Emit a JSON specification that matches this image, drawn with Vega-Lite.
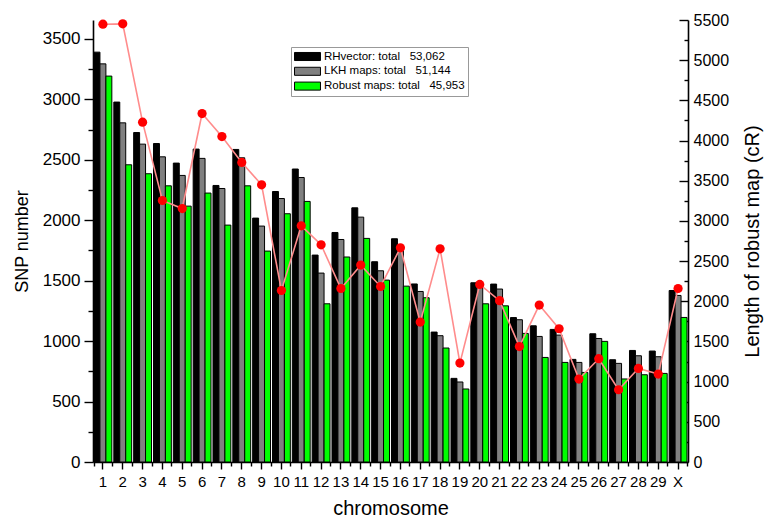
{
  "$schema": "https://vega.github.io/schema/vega-lite/v6.json",
  "width": 595,
  "height": 442,
  "autosize": "none",
  "padding": {"left": 93, "top": 20, "right": 80, "bottom": 56},
  "background": "white",
  "config": {
    "view": {"stroke": null},
    "font": "Liberation Sans",
    "axis": {
      "grid": false,
      "domainColor": "black",
      "tickColor": "black",
      "labelColor": "black",
      "titleColor": "black",
      "labelFont": "Liberation Sans",
      "titleFont": "Liberation Sans",
      "titleFontWeight": "normal",
      "domainWidth": 1.6,
      "tickWidth": 1.4
    }
  },
  "datasets": {
    "bars": [
      {"chromosome": "1", "series": "RHvector", "count": 3391},
      {"chromosome": "1", "series": "LKH maps", "count": 3294},
      {"chromosome": "1", "series": "Robust maps", "count": 3193},
      {"chromosome": "2", "series": "RHvector", "count": 2978},
      {"chromosome": "2", "series": "LKH maps", "count": 2806},
      {"chromosome": "2", "series": "Robust maps", "count": 2459},
      {"chromosome": "3", "series": "RHvector", "count": 2726},
      {"chromosome": "3", "series": "LKH maps", "count": 2630},
      {"chromosome": "3", "series": "Robust maps", "count": 2385},
      {"chromosome": "4", "series": "RHvector", "count": 2635},
      {"chromosome": "4", "series": "LKH maps", "count": 2525},
      {"chromosome": "4", "series": "Robust maps", "count": 2285},
      {"chromosome": "5", "series": "RHvector", "count": 2473},
      {"chromosome": "5", "series": "LKH maps", "count": 2371},
      {"chromosome": "5", "series": "Robust maps", "count": 2117},
      {"chromosome": "6", "series": "RHvector", "count": 2589},
      {"chromosome": "6", "series": "LKH maps", "count": 2512},
      {"chromosome": "6", "series": "Robust maps", "count": 2225},
      {"chromosome": "7", "series": "RHvector", "count": 2288},
      {"chromosome": "7", "series": "LKH maps", "count": 2263},
      {"chromosome": "7", "series": "Robust maps", "count": 1960},
      {"chromosome": "8", "series": "RHvector", "count": 2586},
      {"chromosome": "8", "series": "LKH maps", "count": 2517},
      {"chromosome": "8", "series": "Robust maps", "count": 2285},
      {"chromosome": "9", "series": "RHvector", "count": 2018},
      {"chromosome": "9", "series": "LKH maps", "count": 1952},
      {"chromosome": "9", "series": "Robust maps", "count": 1745},
      {"chromosome": "10", "series": "RHvector", "count": 2238},
      {"chromosome": "10", "series": "LKH maps", "count": 2180},
      {"chromosome": "10", "series": "Robust maps", "count": 2054},
      {"chromosome": "11", "series": "RHvector", "count": 2424},
      {"chromosome": "11", "series": "LKH maps", "count": 2354},
      {"chromosome": "11", "series": "Robust maps", "count": 2156},
      {"chromosome": "12", "series": "RHvector", "count": 1712},
      {"chromosome": "12", "series": "LKH maps", "count": 1563},
      {"chromosome": "12", "series": "Robust maps", "count": 1309},
      {"chromosome": "13", "series": "RHvector", "count": 1899},
      {"chromosome": "13", "series": "LKH maps", "count": 1841},
      {"chromosome": "13", "series": "Robust maps", "count": 1696},
      {"chromosome": "14", "series": "RHvector", "count": 2103},
      {"chromosome": "14", "series": "LKH maps", "count": 2026},
      {"chromosome": "14", "series": "Robust maps", "count": 1850},
      {"chromosome": "15", "series": "RHvector", "count": 1657},
      {"chromosome": "15", "series": "LKH maps", "count": 1582},
      {"chromosome": "15", "series": "Robust maps", "count": 1505},
      {"chromosome": "16", "series": "RHvector", "count": 1847},
      {"chromosome": "16", "series": "LKH maps", "count": 1770},
      {"chromosome": "16", "series": "Robust maps", "count": 1455},
      {"chromosome": "17", "series": "RHvector", "count": 1473},
      {"chromosome": "17", "series": "LKH maps", "count": 1411},
      {"chromosome": "17", "series": "Robust maps", "count": 1359},
      {"chromosome": "18", "series": "RHvector", "count": 1075},
      {"chromosome": "18", "series": "LKH maps", "count": 1045},
      {"chromosome": "18", "series": "Robust maps", "count": 943},
      {"chromosome": "19", "series": "RHvector", "count": 692},
      {"chromosome": "19", "series": "LKH maps", "count": 662},
      {"chromosome": "19", "series": "Robust maps", "count": 604},
      {"chromosome": "20", "series": "RHvector", "count": 1483},
      {"chromosome": "20", "series": "LKH maps", "count": 1445},
      {"chromosome": "20", "series": "Robust maps", "count": 1309},
      {"chromosome": "21", "series": "RHvector", "count": 1472},
      {"chromosome": "21", "series": "LKH maps", "count": 1431},
      {"chromosome": "21", "series": "Robust maps", "count": 1292},
      {"chromosome": "22", "series": "RHvector", "count": 1195},
      {"chromosome": "22", "series": "LKH maps", "count": 1177},
      {"chromosome": "22", "series": "Robust maps", "count": 1064},
      {"chromosome": "23", "series": "RHvector", "count": 1127},
      {"chromosome": "23", "series": "LKH maps", "count": 1039},
      {"chromosome": "23", "series": "Robust maps", "count": 865},
      {"chromosome": "24", "series": "RHvector", "count": 1097},
      {"chromosome": "24", "series": "LKH maps", "count": 1050},
      {"chromosome": "24", "series": "Robust maps", "count": 824},
      {"chromosome": "25", "series": "RHvector", "count": 849},
      {"chromosome": "25", "series": "LKH maps", "count": 824},
      {"chromosome": "25", "series": "Robust maps", "count": 741},
      {"chromosome": "26", "series": "RHvector", "count": 1061},
      {"chromosome": "26", "series": "LKH maps", "count": 1022},
      {"chromosome": "26", "series": "Robust maps", "count": 998},
      {"chromosome": "27", "series": "RHvector", "count": 846},
      {"chromosome": "27", "series": "LKH maps", "count": 816},
      {"chromosome": "27", "series": "Robust maps", "count": 687},
      {"chromosome": "28", "series": "RHvector", "count": 923},
      {"chromosome": "28", "series": "LKH maps", "count": 879},
      {"chromosome": "28", "series": "Robust maps", "count": 722},
      {"chromosome": "29", "series": "RHvector", "count": 918},
      {"chromosome": "29", "series": "LKH maps", "count": 871},
      {"chromosome": "29", "series": "Robust maps", "count": 733},
      {"chromosome": "X", "series": "RHvector", "count": 1419},
      {"chromosome": "X", "series": "LKH maps", "count": 1378},
      {"chromosome": "X", "series": "Robust maps", "count": 1196}
    ],
    "map": [
      {"chromosome": "1", "length": 5448},
      {"chromosome": "2", "length": 5452},
      {"chromosome": "3", "length": 4229},
      {"chromosome": "4", "length": 3254},
      {"chromosome": "5", "length": 3154},
      {"chromosome": "6", "length": 4336},
      {"chromosome": "7", "length": 4050},
      {"chromosome": "8", "length": 3727},
      {"chromosome": "9", "length": 3449},
      {"chromosome": "10", "length": 2134},
      {"chromosome": "11", "length": 2939},
      {"chromosome": "12", "length": 2703},
      {"chromosome": "13", "length": 2159},
      {"chromosome": "14", "length": 2450},
      {"chromosome": "15", "length": 2184},
      {"chromosome": "16", "length": 2665},
      {"chromosome": "17", "length": 1741},
      {"chromosome": "18", "length": 2653},
      {"chromosome": "19", "length": 1231},
      {"chromosome": "20", "length": 2209},
      {"chromosome": "21", "length": 2008},
      {"chromosome": "22", "length": 1436},
      {"chromosome": "23", "length": 1953},
      {"chromosome": "24", "length": 1658},
      {"chromosome": "25", "length": 1032},
      {"chromosome": "26", "length": 1285},
      {"chromosome": "27", "length": 899},
      {"chromosome": "28", "length": 1164},
      {"chromosome": "29", "length": 1094},
      {"chromosome": "X", "length": 2159}
    ]
  },
  "layer": [
    {
      "data": {"name": "bars"},
      "mark": {"type": "bar", "stroke": "black", "strokeWidth": 1},
      "encoding": {
        "x": {
          "field": "chromosome",
          "type": "nominal",
          "sort": ["1","2","3","4","5","6","7","8","9","10","11","12","13","14","15","16","17","18","19","20","21","22","23","24","25","26","27","28","29","X"],
          "scale": {"paddingInner": 0.1, "paddingOuter": 0.05},
          "axis": {
            "orient": "bottom",
            "title": "chromosome",
            "titleFontSize": 20,
            "titlePadding": 9,
            "labelFontSize": 15,
            "labelAngle": 0,
            "labelPadding": 5,
            "tickSize": 7
          }
        },
        "xOffset": {
          "field": "series",
          "type": "nominal",
          "sort": ["RHvector", "LKH maps", "Robust maps"],
          "scale": {"paddingInner": 0, "paddingOuter": 0}
        },
        "y": {
          "field": "count",
          "type": "quantitative",
          "scale": {"domain": [0, 3657], "nice": false, "zero": true},
          "axis": {
            "orient": "left",
            "title": "SNP number",
            "titleFontSize": 18,
            "titlePadding": 11,
            "labelFontSize": 17,
            "labelPadding": 4,
            "format": "d",
            "values": [0,250,500,750,1000,1250,1500,1750,2000,2250,2500,2750,3000,3250,3500],
            "labelExpr": "datum.value % 500 === 0 ? datum.label : ''",
            "tickSize": {"condition": {"test": "datum.value % 500 === 0", "value": 9}, "value": 5}
          }
        },
        "color": {
          "field": "series",
          "type": "nominal",
          "scale": {"domain": ["RHvector", "LKH maps", "Robust maps"], "range": ["#000000", "#808080", "#00ff00"]},
          "legend": {
            "title": null,
            "orient": "none",
            "legendX": 198,
            "legendY": 27,
            "fillColor": "white",
            "strokeColor": "#999999",
            "padding": 3,
            "symbolType": "M-1,-0.67H3.33V0.67H-1Z",
            "symbolSize": 144,
            "symbolStrokeColor": "black",
            "symbolStrokeWidth": 1,
            "symbolOpacity": 1,
            "labelFontSize": 11.5,
            "labelFont": "Liberation Sans",
            "labelColor": "black",
            "labelOffset": 17,
            "rowPadding": 1.8,
            "labelLimit": 300,
            "labelExpr": "datum.value === 'RHvector' ? 'RHvector: total\u00a0\u00a0\u00a053,062' : datum.value === 'LKH maps' ? 'LKH maps: total\u00a0\u00a0\u00a051,144' : 'Robust maps: total\u00a0\u00a0\u00a045,953'"
          }
        }
      }
    },
    {
      "data": {"name": "map"},
      "encoding": {
        "x": {
          "field": "chromosome",
          "type": "nominal",
          "sort": ["1","2","3","4","5","6","7","8","9","10","11","12","13","14","15","16","17","18","19","20","21","22","23","24","25","26","27","28","29","X"],
          "axis": {
            "orient": "bottom",
            "title": null,
            "labels": false,
            "domain": false,
            "tickBand": "extent",
            "tickSize": 4
          }
        },
        "y": {
          "field": "length",
          "type": "quantitative",
          "scale": {"domain": [0, 5500], "nice": false},
          "axis": {
            "orient": "right",
            "title": "Length of robust map (cR)",
            "titleFontSize": 20,
            "titleAngle": 270,
            "titleBaseline": "top",
            "titlePadding": 14,
            "titleY": 221,
            "labelFontSize": 16,
            "labelPadding": 14,
            "format": "d",
            "values": [0,250,500,750,1000,1250,1500,1750,2000,2250,2500,2750,3000,3250,3500,3750,4000,4250,4500,4750,5000,5250,5500],
            "labelExpr": "datum.value % 500 === 0 ? datum.label : ''",
            "tickSize": {"condition": {"test": "datum.value % 500 === 0", "value": -9}, "value": -4}
          }
        }
      },
      "layer": [
        {"mark": {"type": "line", "color": "#ff8c8c", "strokeWidth": 1.6}},
        {"mark": {"type": "point", "filled": true, "color": "#ff0000", "size": 85, "opacity": 1}}
      ]
    }
  ],
  "resolve": {"scale": {"y": "independent"}, "axis": {"x": "independent"}}
}
